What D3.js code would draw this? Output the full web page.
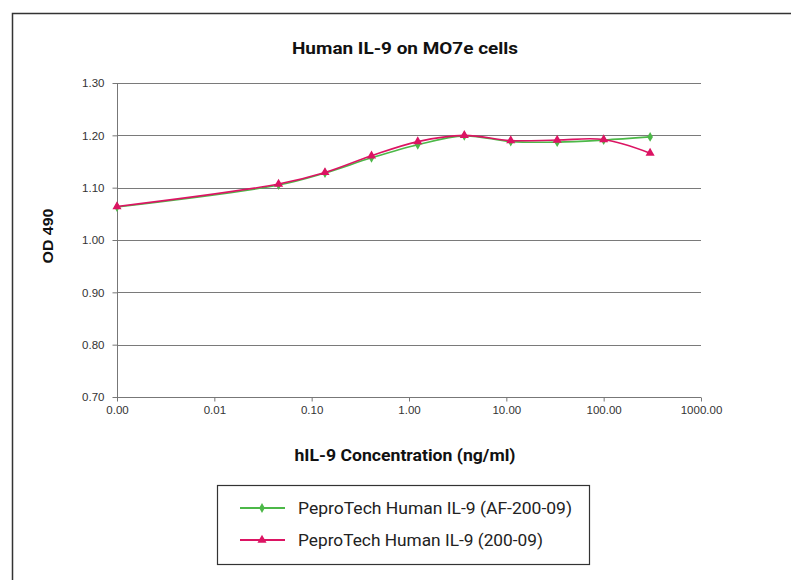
<!DOCTYPE html>
<html><head><meta charset="utf-8">
<script src="https://cdn.jsdelivr.net/npm/d3@7"></script>
<style>
body{margin:0;background:#fff;}
svg{display:block;}
</style></head>
<body>
<svg id="c" width="791" height="580"></svg>
<script>
const concentrations = [0.001, 0.0457, 0.137, 0.412, 1.23, 3.70, 11.1, 33.3, 100, 300];
const seriesNames = ["PeproTech Human IL-9 (AF-200-09)", "PeproTech Human IL-9 (200-09)"];
const afValues = [1.063, 1.105, 1.128, 1.157, 1.182, 1.199, 1.188, 1.187, 1.191, 1.197];
const stdValues = [1.064, 1.107, 1.129, 1.161, 1.188, 1.200, 1.190, 1.191, 1.192, 1.166];
const xTicks = [0.001, 0.01, 0.1, 1, 10, 100, 1000];
const xTickLabels = ["0.00", "0.01", "0.10", "1.00", "10.00", "100.00", "1000.00"];
const yTicks = [0.70, 0.80, 0.90, 1.00, 1.10, 1.20, 1.30];
const colors = ["#4cb848", "#dc1463"];

const svg = d3.select("#c");
// outer frame
svg.append("rect").attr("x",12.5).attr("y",13.5).attr("width",900).attr("height",700)
  .attr("fill","none").attr("stroke","#333").attr("stroke-width",1.5);

const x = d3.scaleLog().domain([0.001, 1000]).range([117, 701]);
const y = d3.scaleLinear().domain([0.70, 1.30]).range([397, 83]);

// gridlines
svg.append("g").selectAll("line").data(yTicks.slice(1)).join("line")
  .attr("x1",117).attr("x2",701).attr("y1",d=>Math.round(y(d))+0.5).attr("y2",d=>Math.round(y(d))+0.5)
  .attr("stroke","#7a7a7a").attr("stroke-width",1);

// axes
const xAxis = d3.axisBottom(x).tickValues(xTicks).tickFormat((d,i)=>xTickLabels[i]).tickSize(4).tickPadding(4);
const gx = svg.append("g").attr("transform","translate(0,397.5)").call(xAxis);
gx.select(".domain").attr("stroke","#777").attr("d","M117,0H701");
gx.selectAll(".tick line").attr("stroke","#777");
gx.selectAll("text").attr("font-family","Liberation Sans, Arial, sans-serif").attr("font-size",11.5).attr("fill","#333");

const yAxis = d3.axisLeft(y).tickValues(yTicks).tickFormat(d3.format(".2f")).tickSize(5).tickPadding(8);
const gy = svg.append("g").attr("transform","translate(117.5,0)").call(yAxis);
gy.select(".domain").attr("stroke","#777").attr("d","M0,83V397");
gy.selectAll(".tick line").attr("stroke","#777");
gy.selectAll("text").attr("font-family","Liberation Sans, Arial, sans-serif").attr("font-size",11.5).attr("fill","#333");

// titles
svg.append("text").attr("x",405).attr("y",54).attr("text-anchor","middle")
  .attr("font-family","Roboto, sans-serif").attr("font-weight","bold").attr("font-size",17)
  .attr("textLength",226).attr("lengthAdjust","spacingAndGlyphs")
  .attr("fill","#111").text("Human IL-9 on MO7e cells");
svg.append("text").attr("x",405).attr("y",461).attr("text-anchor","middle")
  .attr("font-family","Roboto, sans-serif").attr("font-weight","bold").attr("font-size",17)
  .attr("textLength",221).attr("lengthAdjust","spacingAndGlyphs")
  .attr("fill","#111").text("hIL-9 Concentration (ng/ml)");
svg.append("text").attr("transform","translate(53,236) rotate(-90)").attr("text-anchor","middle")
  .attr("font-family","Liberation Sans, Arial, sans-serif").attr("font-weight","bold").attr("font-size",15)
  .attr("textLength",55).attr("lengthAdjust","spacingAndGlyphs")
  .attr("fill","#111").text("OD 490");

// lines
const series = [afValues, stdValues];
const line = d3.line().x((d,i)=>x(concentrations[i])).y(d=>y(d)).curve(d3.curveCatmullRom.alpha(0.5));
series.forEach((vals,k)=>{
  svg.append("path").datum(vals).attr("d",line).attr("fill","none")
    .attr("stroke",colors[k]).attr("stroke-width",1.6);
});
// markers
const diamond = d3.symbol().type(d3.symbolDiamond).size(28);
const tri = d3.symbol().type(d3.symbolTriangle).size(36);
svg.append("g").selectAll("path").data(afValues).join("path")
  .attr("transform",(d,i)=>`translate(${x(concentrations[i])},${y(d)})`)
  .attr("d",diamond).attr("fill",colors[0]);
svg.append("g").selectAll("path").data(stdValues).join("path")
  .attr("transform",(d,i)=>`translate(${x(concentrations[i])},${y(d)})`)
  .attr("d",tri).attr("fill",colors[1]);

// legend
const lg = svg.append("g");
lg.append("rect").attr("x",217.5).attr("y",485.5).attr("width",372).attr("height",79)
  .attr("fill","#fff").attr("stroke","#333").attr("stroke-width",1.2);
const ly = [508, 540];
const lw = [274, 245];
seriesNames.forEach((n,k)=>{
  lg.append("line").attr("x1",240).attr("x2",285).attr("y1",ly[k]).attr("y2",ly[k])
    .attr("stroke",colors[k]).attr("stroke-width",1.8);
  lg.append("path").attr("transform",`translate(262,${ly[k]})`).attr("d",k===0?diamond:tri).attr("fill",colors[k]);
  lg.append("text").attr("x",298).attr("y",ly[k]+6).attr("font-family","Roboto, sans-serif")
    .attr("font-size",16.5).attr("textLength",lw[k]).attr("lengthAdjust","spacingAndGlyphs")
    .attr("fill","#222").text(n);
});
</script>
</body></html>
